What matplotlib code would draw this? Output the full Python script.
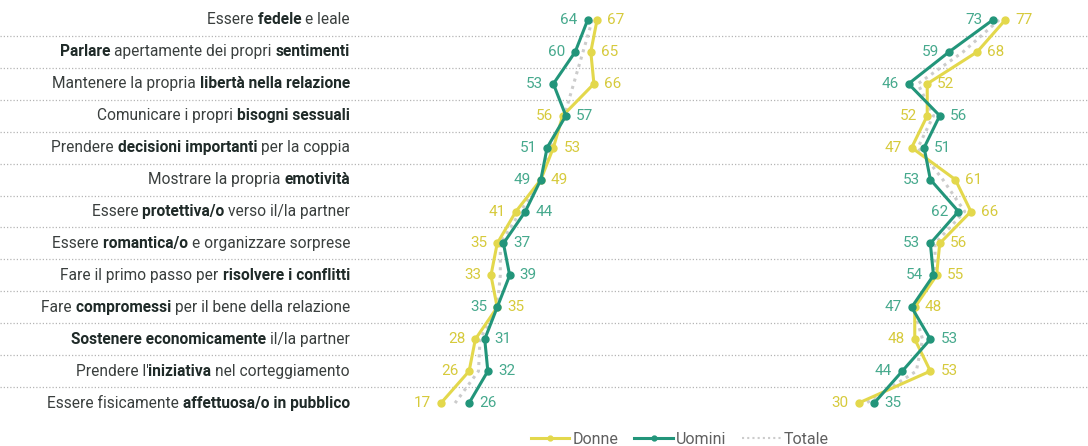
import matplotlib
matplotlib.use("Agg")
import matplotlib.pyplot as plt
from matplotlib.lines import Line2D

plt.rcParams['font.family'] = ['Roboto', 'DejaVu Sans']

# etichette delle righe: (testo, grassetto)
labels = [
    [("Essere ", False), ("fedele ", True), ("e leale", False)],
    [("Parlare ", True), ("apertamente dei propri ", False), ("sentimenti", True)],
    [("Mantenere la propria ", False), ("libertà nella relazione", True)],
    [("Comunicare i propri ", False), ("bisogni sessuali", True)],
    [("Prendere ", False), ("decisioni importanti ", True), ("per la coppia", False)],
    [("Mostrare la propria ", False), ("emotività", True)],
    [("Essere ", False), ("protettiva/o ", True), ("verso il/la partner", False)],
    [("Essere ", False), ("romantica/o ", True), ("e organizzare sorprese", False)],
    [("Fare il primo passo per ", False), ("risolvere i conflitti", True)],
    [("Fare ", False), ("compromessi ", True), ("per il bene della relazione", False)],
    [("Sostenere economicamente ", True), ("il/la partner", False)],
    [("Prendere l'", False), ("iniziativa ", True), ("nel corteggiamento", False)],
    [("Essere fisicamente ", False), ("affettuosa/o in pubblico", True)],
]

# pannello sinistro
donne_1 = [67, 65, 66, 56, 53, 49, 41, 35, 33, 35, 28, 26, 17]
uomini_1 = [64, 60, 53, 57, 51, 49, 44, 37, 39, 35, 31, 32, 26]
totale_1 = [65.5, 62.5, 59.5, 56.5, 52, 49, 42.5, 36, 36, 35, 29.5, 29, 21.5]

# pannello destro
donne_2 = [77, 68, 52, 52, 47, 61, 66, 56, 55, 48, 48, 53, 30]
uomini_2 = [73, 59, 46, 56, 51, 53, 62, 53, 54, 47, 53, 44, 35]
totale_2 = [75, 63.5, 49, 54, 49, 57, 64, 54.5, 54.5, 47.5, 50.5, 48.5, 32.5]

C_DONNE = '#e3d84c'
C_UOMINI = '#22957a'
C_TOT = '#cccccc'
T_DONNE = '#d6ca3c'
T_UOMINI = '#46a98d'

W, H = 1088, 446
fig = plt.figure(figsize=(W / 100, H / 100), dpi=100)

n = len(labels)
bottom = 1 - 419 / H
height = (419 - 4) / H

# sfondo: separatori ed etichette
bg = fig.add_axes([0, bottom, 1, height])
bg.set_xlim(0, W)
bg.set_ylim(n - 0.5, -0.5)
bg.axis('off')
for i in range(n - 1):
    bg.axhline(i + 0.5, color='#b5b5b5', lw=0.9, ls=(0, (1, 1.6)))

FS = 11.2
for i, parts in enumerate(labels):
    prev = None
    for txt, b in reversed(parts):
        col = '#1f2a28' if b else '#3a3f3e'
        wt = 'bold' if b else 'normal'
        if prev is None:
            t = bg.annotate(txt, xy=(350, i), xycoords='data', va='center',
                            ha='right', fontsize=FS, fontweight=wt, color=col)
        else:
            t = bg.annotate(txt, xy=(0, 0), xycoords=prev, va='bottom',
                            ha='right', fontsize=FS, fontweight=wt, color=col)
        prev = t


def panel(left_px, donne, uomini, totale):
    ax = fig.add_axes([left_px / W, bottom, 312 / W, height])
    ax.set_xlim(0, 100)
    ax.set_ylim(n - 0.5, -0.5)
    ax.axis('off')
    ys = list(range(n))
    ax.plot(totale, ys, color=C_TOT, lw=2.2, ls=(0, (1, 1.5)), zorder=1)
    ax.plot(donne, ys, color=C_DONNE, lw=2.2, marker='o', ms=5, zorder=2)
    ax.plot(uomini, ys, color=C_UOMINI, lw=2.2, marker='o', ms=5, zorder=3)
    for i in ys:
        d, u = donne[i], uomini[i]
        if d < u:
            left, right = (d, T_DONNE), (u, T_UOMINI)
        else:
            left, right = (u, T_UOMINI), (d, T_DONNE)
        ax.annotate(str(left[0]), xy=(left[0], i), xytext=(-10, 0),
                    textcoords='offset pixels', ha='right', va='center',
                    fontsize=11, color=left[1])
        ax.annotate(str(right[0]), xy=(right[0], i), xytext=(10, 0),
                    textcoords='offset pixels', ha='left', va='center',
                    fontsize=11, color=right[1])
    return ax


panel(388, donne_1, uomini_1, totale_1)
panel(765, donne_2, uomini_2, totale_2)

handles = [
    Line2D([], [], color=C_DONNE, lw=2.2, marker='o', ms=3.5),
    Line2D([], [], color=C_UOMINI, lw=2.2, marker='o', ms=3.5),
    Line2D([], [], color=C_TOT, lw=1.5, ls=(0, (1, 1.5))),
]
fig.legend(handles, ['Donne', 'Uomini', 'Totale'], loc='center',
           bbox_to_anchor=(680 / W, 1 - 439 / H), ncol=3, frameon=False,
           fontsize=11.5, labelcolor='#606060', handlelength=2.4,
           handletextpad=0.2, columnspacing=1.0)

fig.savefig('out.png', dpi=100)
